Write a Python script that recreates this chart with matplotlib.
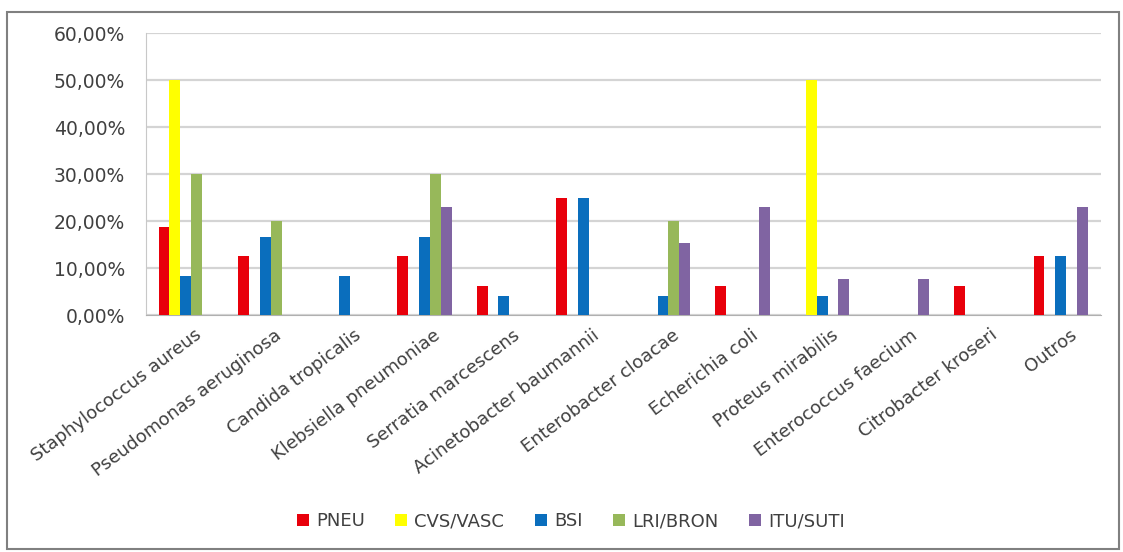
import numpy as np
import matplotlib.pyplot as plt
from matplotlib.ticker import FuncFormatter
from matplotlib.patches import Rectangle
from matplotlib.transforms import ScaledTranslation

categories = ["Staphylococcus aureus", "Pseudomonas aeruginosa", "Candida tropicalis",
              "Klebsiella pneumoniae", "Serratia marcescens", "Acinetobacter baumannii",
              "Enterobacter cloacae", "Echerichia coli", "Proteus mirabilis",
              "Enterococcus faecium", "Citrobacter kroseri", "Outros"]
pneu = [18.75, 12.5, 0, 12.5, 6.25, 25, 0, 6.25, 0, 0, 6.25, 12.5]
cvs = [50, 0, 0, 0, 0, 0, 0, 0, 50, 0, 0, 0]
bsi = [8.33, 16.67, 8.33, 16.67, 4.17, 25, 4.17, 0, 4.17, 0, 0, 12.5]
lri = [30, 20, 0, 30, 0, 0, 20, 0, 0, 0, 0, 0]
itu = [0, 0, 0, 23.08, 0, 0, 15.38, 23.08, 7.69, 7.69, 0, 23.08]
series = ["PNEU", "CVS/VASC", "BSI", "LRI/BRON", "ITU/SUTI"]
colors = ["#E8000B", "#FFFF00", "#0A6EBD", "#97B85A", "#8064A2"]

plt.rcParams['font.family'] = ['DejaVu Sans']
fig = plt.figure(figsize=(11.23, 5.52), dpi=100)
ax = fig.add_axes([0.130, 0.429, 0.850, 0.511])

x = np.arange(len(categories))
w = 0.137
for i, (vals, c, name) in enumerate(zip([pneu, cvs, bsi, lri, itu], colors, series)):
    ax.bar(x + (i - 2) * w, vals, w, color=c, label=name, zorder=3)

ax.set_xlim(-0.5, len(categories) - 0.5)
ax.set_ylim(0, 60)
ax.set_yticks(np.arange(0, 61, 10))
ax.yaxis.set_major_formatter(FuncFormatter(lambda v, p: f"{v:.2f}%".replace(".", ",")))
ax.grid(axis='y', color='#D4D4D4', linewidth=1.6, zorder=0)
for s in ['top', 'right']:
    ax.spines[s].set_visible(False)
ax.spines['left'].set_color('#C8C8C8')
ax.spines['bottom'].set_color('#B0B0B0')
ax.tick_params(axis='y', length=0, pad=15, labelsize=13.5, colors='#404040')
ax.tick_params(axis='x', length=0, pad=13, labelsize=13, colors='#404040')
ax.set_xticks(x)
ax.set_xticklabels(categories, rotation=37, ha='right', va='center', rotation_mode='anchor')
for lab in ax.get_xticklabels():
    lab.set_transform(lab.get_transform() + ScaledTranslation(0.14, 0, fig.dpi_scale_trans))

ax.legend(loc='center', bbox_to_anchor=(0.445, -0.73), ncol=5, frameon=False,
          fontsize=13, handlelength=0.65, handleheight=0.65, columnspacing=1.7,
          handletextpad=0.4, labelcolor='#404040')

fig.patches.append(Rectangle((0.006, 0.005), 0.99, 0.973, transform=fig.transFigure,
                             fill=False, edgecolor='#808080', linewidth=1.5))
fig.savefig("out.png", dpi=100)
